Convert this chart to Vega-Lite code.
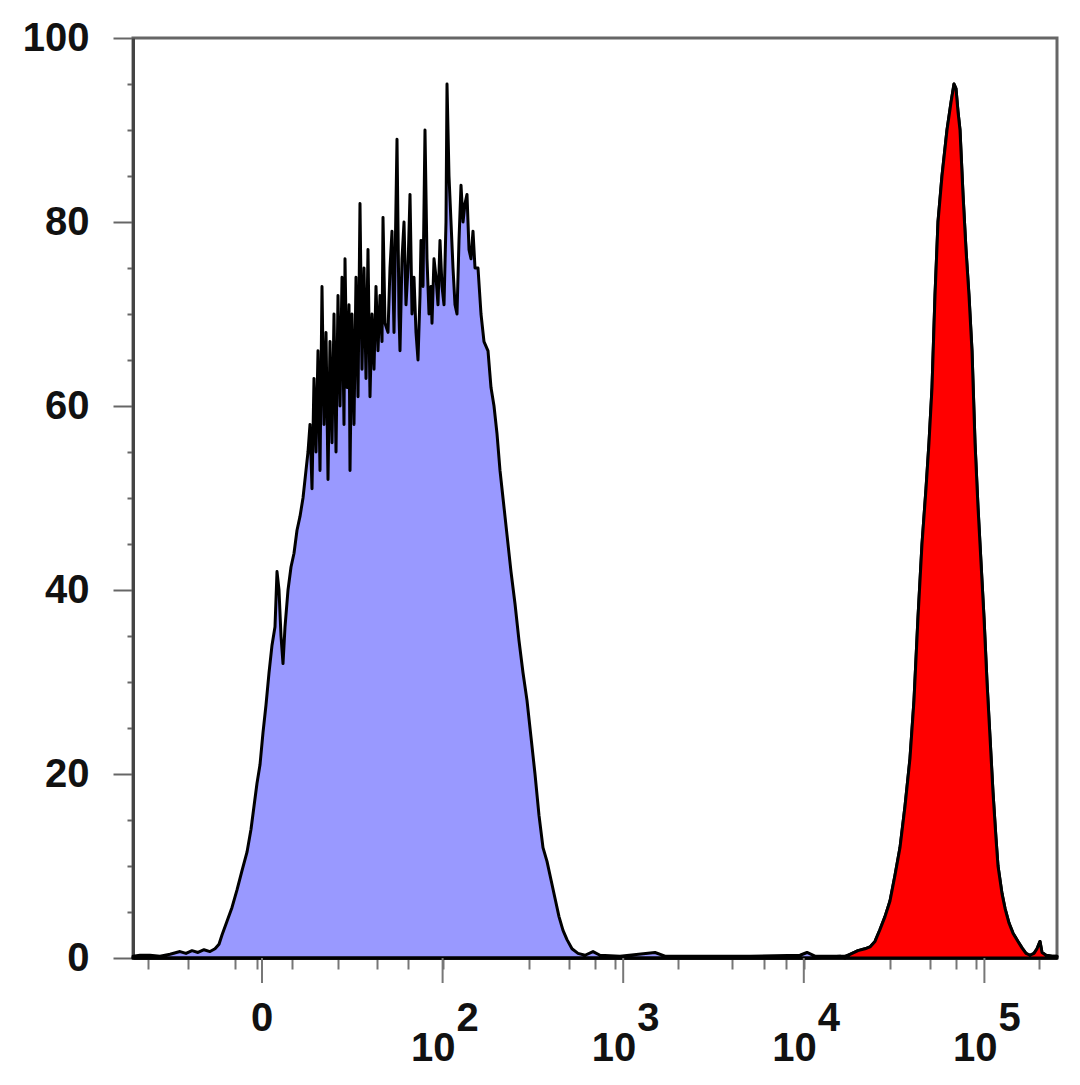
{
  "$schema": "https://vega.github.io/schema/vega-lite/v6.json",
  "width": 924,
  "height": 920,
  "autosize": {"type": "none"},
  "padding": {"left": 133, "top": 38, "right": 23, "bottom": 127},
  "background": "white",
  "config": {"view": {"stroke": "#666", "strokeWidth": 3}, "font": "Liberation Sans"},
  "datasets": {
    "hist": [
      {"sample": "control", "pos": 0.2857, "count": 0.2},
      {"sample": "control", "pos": 0.3245, "count": 0.3},
      {"sample": "control", "pos": 0.3798, "count": 0.3},
      {"sample": "control", "pos": 0.4352, "count": 0.2},
      {"sample": "control", "pos": 0.4906, "count": 0.4},
      {"sample": "control", "pos": 0.546, "count": 0.7},
      {"sample": "control", "pos": 0.5792, "count": 0.5},
      {"sample": "control", "pos": 0.6124, "count": 0.8},
      {"sample": "control", "pos": 0.6456, "count": 0.6},
      {"sample": "control", "pos": 0.6789, "count": 0.9},
      {"sample": "control", "pos": 0.7121, "count": 0.7},
      {"sample": "control", "pos": 0.7398, "count": 1.0},
      {"sample": "control", "pos": 0.7619, "count": 1.5},
      {"sample": "control", "pos": 0.7785, "count": 2.5},
      {"sample": "control", "pos": 0.8062, "count": 4},
      {"sample": "control", "pos": 0.8339, "count": 5.5},
      {"sample": "control", "pos": 0.8616, "count": 7.4},
      {"sample": "control", "pos": 0.8893, "count": 9.5},
      {"sample": "control", "pos": 0.9169, "count": 11.5},
      {"sample": "control", "pos": 0.9391, "count": 14},
      {"sample": "control", "pos": 0.9557, "count": 16.5},
      {"sample": "control", "pos": 0.9723, "count": 19},
      {"sample": "control", "pos": 0.9889, "count": 21},
      {"sample": "control", "pos": 1.0055, "count": 24.5},
      {"sample": "control", "pos": 1.0221, "count": 27.5},
      {"sample": "control", "pos": 1.0388, "count": 31},
      {"sample": "control", "pos": 1.0554, "count": 34},
      {"sample": "control", "pos": 1.072, "count": 36},
      {"sample": "control", "pos": 1.0831, "count": 42},
      {"sample": "control", "pos": 1.0941, "count": 40},
      {"sample": "control", "pos": 1.1052, "count": 35},
      {"sample": "control", "pos": 1.1163, "count": 32},
      {"sample": "control", "pos": 1.1274, "count": 36},
      {"sample": "control", "pos": 1.144, "count": 40},
      {"sample": "control", "pos": 1.1606, "count": 42.5},
      {"sample": "control", "pos": 1.1772, "count": 44},
      {"sample": "control", "pos": 1.1938, "count": 46.5},
      {"sample": "control", "pos": 1.2104, "count": 48},
      {"sample": "control", "pos": 1.227, "count": 50},
      {"sample": "control", "pos": 1.2436, "count": 53},
      {"sample": "control", "pos": 1.2547, "count": 55},
      {"sample": "control", "pos": 1.2658, "count": 58},
      {"sample": "control", "pos": 1.2769, "count": 51},
      {"sample": "control", "pos": 1.2879, "count": 63},
      {"sample": "control", "pos": 1.299, "count": 55},
      {"sample": "control", "pos": 1.3101, "count": 66},
      {"sample": "control", "pos": 1.3212, "count": 53},
      {"sample": "control", "pos": 1.3322, "count": 73},
      {"sample": "control", "pos": 1.3433, "count": 58},
      {"sample": "control", "pos": 1.3544, "count": 68},
      {"sample": "control", "pos": 1.3655, "count": 52},
      {"sample": "control", "pos": 1.3765, "count": 67},
      {"sample": "control", "pos": 1.3876, "count": 56},
      {"sample": "control", "pos": 1.3987, "count": 70},
      {"sample": "control", "pos": 1.4098, "count": 55},
      {"sample": "control", "pos": 1.4208, "count": 72},
      {"sample": "control", "pos": 1.4319, "count": 60},
      {"sample": "control", "pos": 1.443, "count": 74},
      {"sample": "control", "pos": 1.454, "count": 58},
      {"sample": "control", "pos": 1.4596, "count": 76},
      {"sample": "control", "pos": 1.4707, "count": 62},
      {"sample": "control", "pos": 1.4817, "count": 71},
      {"sample": "control", "pos": 1.4873, "count": 53},
      {"sample": "control", "pos": 1.4983, "count": 70},
      {"sample": "control", "pos": 1.5094, "count": 58},
      {"sample": "control", "pos": 1.5205, "count": 74},
      {"sample": "control", "pos": 1.5316, "count": 61},
      {"sample": "control", "pos": 1.5426, "count": 82},
      {"sample": "control", "pos": 1.5537, "count": 64},
      {"sample": "control", "pos": 1.5648, "count": 75},
      {"sample": "control", "pos": 1.5759, "count": 63},
      {"sample": "control", "pos": 1.5869, "count": 77},
      {"sample": "control", "pos": 1.598, "count": 61},
      {"sample": "control", "pos": 1.6091, "count": 70},
      {"sample": "control", "pos": 1.6202, "count": 64},
      {"sample": "control", "pos": 1.6312, "count": 73},
      {"sample": "control", "pos": 1.6423, "count": 66},
      {"sample": "control", "pos": 1.6534, "count": 72},
      {"sample": "control", "pos": 1.6645, "count": 67},
      {"sample": "control", "pos": 1.67, "count": 80.5},
      {"sample": "control", "pos": 1.6811, "count": 69},
      {"sample": "control", "pos": 1.6977, "count": 68},
      {"sample": "control", "pos": 1.7087, "count": 75},
      {"sample": "control", "pos": 1.7198, "count": 79},
      {"sample": "control", "pos": 1.7309, "count": 68},
      {"sample": "control", "pos": 1.7475, "count": 89},
      {"sample": "control", "pos": 1.7586, "count": 70},
      {"sample": "control", "pos": 1.7641, "count": 66},
      {"sample": "control", "pos": 1.7752, "count": 76},
      {"sample": "control", "pos": 1.7863, "count": 80},
      {"sample": "control", "pos": 1.7973, "count": 71},
      {"sample": "control", "pos": 1.8084, "count": 75},
      {"sample": "control", "pos": 1.8195, "count": 83},
      {"sample": "control", "pos": 1.8306, "count": 70},
      {"sample": "control", "pos": 1.8416, "count": 74},
      {"sample": "control", "pos": 1.8527, "count": 68},
      {"sample": "control", "pos": 1.8638, "count": 65},
      {"sample": "control", "pos": 1.8749, "count": 72},
      {"sample": "control", "pos": 1.8804, "count": 78},
      {"sample": "control", "pos": 1.8915, "count": 73},
      {"sample": "control", "pos": 1.9025, "count": 90},
      {"sample": "control", "pos": 1.9136, "count": 76},
      {"sample": "control", "pos": 1.9247, "count": 70},
      {"sample": "control", "pos": 1.9358, "count": 73},
      {"sample": "control", "pos": 1.9413, "count": 69},
      {"sample": "control", "pos": 1.9524, "count": 76},
      {"sample": "control", "pos": 1.9635, "count": 74},
      {"sample": "control", "pos": 1.9745, "count": 71},
      {"sample": "control", "pos": 1.9856, "count": 78},
      {"sample": "control", "pos": 1.9967, "count": 73},
      {"sample": "control", "pos": 2.0078, "count": 71},
      {"sample": "control", "pos": 2.0188, "count": 80},
      {"sample": "control", "pos": 2.0244, "count": 95},
      {"sample": "control", "pos": 2.0354, "count": 85},
      {"sample": "control", "pos": 2.0465, "count": 80},
      {"sample": "control", "pos": 2.0576, "count": 75},
      {"sample": "control", "pos": 2.0687, "count": 71},
      {"sample": "control", "pos": 2.0797, "count": 70},
      {"sample": "control", "pos": 2.0908, "count": 78},
      {"sample": "control", "pos": 2.1019, "count": 84},
      {"sample": "control", "pos": 2.113, "count": 80},
      {"sample": "control", "pos": 2.124, "count": 82},
      {"sample": "control", "pos": 2.1351, "count": 83},
      {"sample": "control", "pos": 2.1462, "count": 77},
      {"sample": "control", "pos": 2.1573, "count": 76},
      {"sample": "control", "pos": 2.1683, "count": 79},
      {"sample": "control", "pos": 2.1794, "count": 75},
      {"sample": "control", "pos": 2.196, "count": 75},
      {"sample": "control", "pos": 2.2126, "count": 70},
      {"sample": "control", "pos": 2.2292, "count": 67},
      {"sample": "control", "pos": 2.2514, "count": 66},
      {"sample": "control", "pos": 2.268, "count": 62},
      {"sample": "control", "pos": 2.2846, "count": 60},
      {"sample": "control", "pos": 2.3012, "count": 57},
      {"sample": "control", "pos": 2.3178, "count": 53},
      {"sample": "control", "pos": 2.3344, "count": 50},
      {"sample": "control", "pos": 2.3566, "count": 46},
      {"sample": "control", "pos": 2.3787, "count": 42},
      {"sample": "control", "pos": 2.4009, "count": 38.5},
      {"sample": "control", "pos": 2.423, "count": 34.5},
      {"sample": "control", "pos": 2.4452, "count": 31},
      {"sample": "control", "pos": 2.4673, "count": 28},
      {"sample": "control", "pos": 2.4895, "count": 24},
      {"sample": "control", "pos": 2.5116, "count": 20},
      {"sample": "control", "pos": 2.5338, "count": 15.5},
      {"sample": "control", "pos": 2.5559, "count": 12},
      {"sample": "control", "pos": 2.5781, "count": 10.5},
      {"sample": "control", "pos": 2.6002, "count": 8.5},
      {"sample": "control", "pos": 2.6224, "count": 6.5},
      {"sample": "control", "pos": 2.6445, "count": 4.5},
      {"sample": "control", "pos": 2.6667, "count": 3},
      {"sample": "control", "pos": 2.6888, "count": 2},
      {"sample": "control", "pos": 2.7165, "count": 1},
      {"sample": "control", "pos": 2.7497, "count": 0.5},
      {"sample": "control", "pos": 2.7885, "count": 0.3},
      {"sample": "control", "pos": 2.8328, "count": 0.7},
      {"sample": "control", "pos": 2.8715, "count": 0.3},
      {"sample": "control", "pos": 2.9823, "count": 0.2},
      {"sample": "control", "pos": 3.1761, "count": 0.6},
      {"sample": "control", "pos": 3.2315, "count": 0.2},
      {"sample": "control", "pos": 3.4253, "count": 0.2},
      {"sample": "control", "pos": 3.7021, "count": 0.2},
      {"sample": "control", "pos": 3.979, "count": 0.3},
      {"sample": "control", "pos": 4.0177, "count": 0.6},
      {"sample": "control", "pos": 4.062, "count": 0.2},
      {"sample": "control", "pos": 4.2281, "count": 0.2},
      {"sample": "stained", "pos": 4.2004, "count": 0.2},
      {"sample": "stained", "pos": 4.2558, "count": 0.4},
      {"sample": "stained", "pos": 4.3001, "count": 0.8},
      {"sample": "stained", "pos": 4.3389, "count": 1.0},
      {"sample": "stained", "pos": 4.3666, "count": 1.2},
      {"sample": "stained", "pos": 4.3942, "count": 1.8},
      {"sample": "stained", "pos": 4.4219, "count": 3.1},
      {"sample": "stained", "pos": 4.4496, "count": 4.5},
      {"sample": "stained", "pos": 4.4773, "count": 6.2},
      {"sample": "stained", "pos": 4.505, "count": 9},
      {"sample": "stained", "pos": 4.5327, "count": 12},
      {"sample": "stained", "pos": 4.5604, "count": 16.5},
      {"sample": "stained", "pos": 4.588, "count": 21.7},
      {"sample": "stained", "pos": 4.6102, "count": 28},
      {"sample": "stained", "pos": 4.6323, "count": 37},
      {"sample": "stained", "pos": 4.6545, "count": 45},
      {"sample": "stained", "pos": 4.6766, "count": 51},
      {"sample": "stained", "pos": 4.6932, "count": 56},
      {"sample": "stained", "pos": 4.7099, "count": 62},
      {"sample": "stained", "pos": 4.7265, "count": 72},
      {"sample": "stained", "pos": 4.7431, "count": 80},
      {"sample": "stained", "pos": 4.7652, "count": 85},
      {"sample": "stained", "pos": 4.7929, "count": 90},
      {"sample": "stained", "pos": 4.8151, "count": 93},
      {"sample": "stained", "pos": 4.8317, "count": 95},
      {"sample": "stained", "pos": 4.8427, "count": 94.5},
      {"sample": "stained", "pos": 4.8538, "count": 92},
      {"sample": "stained", "pos": 4.8649, "count": 90},
      {"sample": "stained", "pos": 4.8815, "count": 83},
      {"sample": "stained", "pos": 4.8981, "count": 77},
      {"sample": "stained", "pos": 4.9147, "count": 72},
      {"sample": "stained", "pos": 4.9313, "count": 66},
      {"sample": "stained", "pos": 4.948, "count": 56},
      {"sample": "stained", "pos": 4.9646, "count": 49},
      {"sample": "stained", "pos": 4.9756, "count": 45},
      {"sample": "stained", "pos": 4.9978, "count": 37},
      {"sample": "stained", "pos": 5.0144, "count": 30},
      {"sample": "stained", "pos": 5.031, "count": 24},
      {"sample": "stained", "pos": 5.0476, "count": 18},
      {"sample": "stained", "pos": 5.0642, "count": 13},
      {"sample": "stained", "pos": 5.0753, "count": 10},
      {"sample": "stained", "pos": 5.0975, "count": 7},
      {"sample": "stained", "pos": 5.1141, "count": 5.4},
      {"sample": "stained", "pos": 5.1362, "count": 3.8},
      {"sample": "stained", "pos": 5.1584, "count": 2.7},
      {"sample": "stained", "pos": 5.186, "count": 1.8},
      {"sample": "stained", "pos": 5.2082, "count": 1.1},
      {"sample": "stained", "pos": 5.2303, "count": 0.5},
      {"sample": "stained", "pos": 5.2525, "count": 0.3},
      {"sample": "stained", "pos": 5.2746, "count": 0.5},
      {"sample": "stained", "pos": 5.2912, "count": 1.0},
      {"sample": "stained", "pos": 5.3079, "count": 1.8},
      {"sample": "stained", "pos": 5.3189, "count": 0.6},
      {"sample": "stained", "pos": 5.3411, "count": 0.3},
      {"sample": "stained", "pos": 5.3743, "count": 0.2},
      {"sample": "stained", "pos": 5.402, "count": 0.2}
    ],
    "ticklabels": [
      {"pos": 1, "base": "0", "exp": ""},
      {"pos": 2, "base": "10", "exp": "2"},
      {"pos": 3, "base": "10", "exp": "3"},
      {"pos": 4, "base": "10", "exp": "4"},
      {"pos": 5, "base": "10", "exp": "5"}
    ]
  },
  "layer": [
    {
      "data": {"name": "hist"},
      "mark": {"type": "area", "stroke": "black", "strokeWidth": 3, "strokeJoin": "round", "opacity": 1},
      "encoding": {
        "x": {
          "field": "pos", "type": "quantitative",
          "scale": {"domain": [0.2857, 5.402], "nice": false, "zero": false},
          "axis": {
            "title": null, "grid": false, "labels": false,
            "values": [0.369, 0.48, 0.59, 0.712, 0.851, 0.906, 0.975, 1, 1.166, 1.31, 1.421, 1.532, 1.637, 1.725, 1.808, 1.891, 2, 2.301, 2.477, 2.602, 2.699, 2.778, 2.845, 2.903, 2.954, 3, 3.301, 3.477, 3.602, 3.699, 3.778, 3.845, 3.903, 3.954, 4, 4.301, 4.477, 4.602, 4.699, 4.778, 4.845, 4.903, 4.954, 5, 5.301],
            "domainColor": "#333", "domainWidth": 3,
            "tickColor": "#777", "tickWidth": 2, "tickSize": 11
          }
        },
        "y": {
          "field": "count", "type": "quantitative",
          "scale": {"domain": [0, 100], "nice": false},
          "axis": {
            "title": null, "grid": false,
            "values": [0, 5, 10, 15, 20, 25, 30, 35, 40, 45, 50, 55, 60, 65, 70, 75, 80, 85, 90, 95, 100],
            "labelExpr": "datum.value % 20 === 0 ? datum.label : ''",
            "labelFont": "Liberation Sans", "labelFontSize": 40, "labelFontWeight": "bold", "labelColor": "#111",
            "labelPadding": 24, "labelFlush": false, "labelOverlap": false,
            "domainColor": "#444", "domainWidth": 3,
            "tickColor": "#666", "tickWidth": 2,
            "tickSize": {"condition": {"test": "datum.value % 20 === 0", "value": 20}, "value": 6}
          }
        },
        "color": {
          "field": "sample", "type": "nominal",
          "scale": {"domain": ["control", "stained"], "range": ["#9999ff", "#ff0000"]},
          "legend": null
        }
      }
    },
    {
      "data": {"name": "ticklabels"},
      "mark": {"type": "rule", "color": "#777", "strokeWidth": 2, "y2Offset": 25},
      "encoding": {
        "x": {"field": "pos", "type": "quantitative"},
        "y": {"datum": 0, "type": "quantitative"},
        "y2": {"datum": 0}
      }
    },
    {
      "data": {"name": "ticklabels"},
      "transform": [{"filter": "datum.base === '0'"}],
      "mark": {"type": "text", "font": "Liberation Sans", "fontSize": 40, "fontWeight": "bold", "color": "#111", "align": "center", "baseline": "alphabetic", "dy": 73},
      "encoding": {
        "x": {"field": "pos", "type": "quantitative"},
        "y": {"datum": 0, "type": "quantitative"},
        "text": {"field": "base"}
      }
    },
    {
      "data": {"name": "ticklabels"},
      "transform": [{"filter": "datum.base === '10'"}],
      "mark": {"type": "text", "font": "Liberation Sans", "fontSize": 40, "fontWeight": "bold", "color": "#111", "align": "right", "baseline": "alphabetic", "dx": 13, "dy": 103},
      "encoding": {
        "x": {"field": "pos", "type": "quantitative"},
        "y": {"datum": 0, "type": "quantitative"},
        "text": {"field": "base"}
      }
    },
    {
      "data": {"name": "ticklabels"},
      "transform": [{"filter": "datum.exp !== ''"}],
      "mark": {"type": "text", "font": "Liberation Sans", "fontSize": 40, "fontWeight": "bold", "color": "#111", "align": "left", "baseline": "alphabetic", "dx": 14, "dy": 73},
      "encoding": {
        "x": {"field": "pos", "type": "quantitative"},
        "y": {"datum": 0, "type": "quantitative"},
        "text": {"field": "exp"}
      }
    }
  ]
}
